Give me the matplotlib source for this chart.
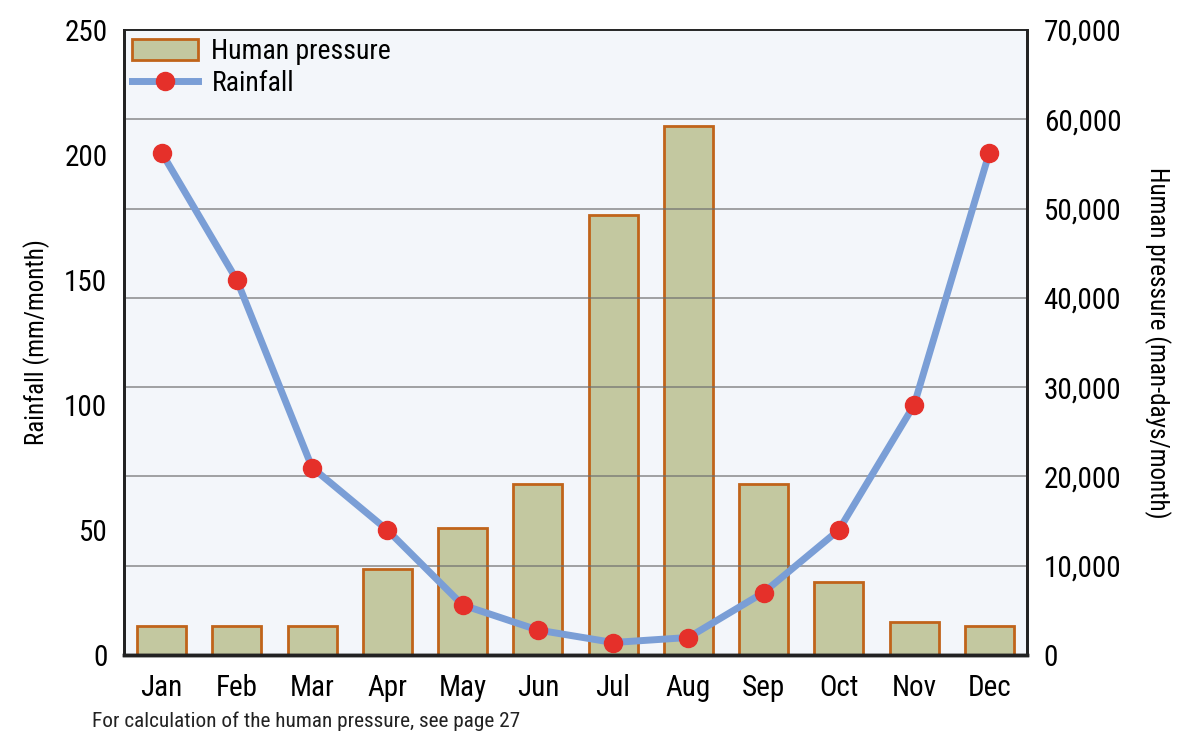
import matplotlib.pyplot as plt
import matplotlib.lines as mlines
import matplotlib.patches as mpatches
from matplotlib.ticker import FuncFormatter
import numpy as np

plt.rcParams['font.family'] = ['Roboto Condensed', 'Archivo Narrow', 'DejaVu Sans']

months = ['Jan', 'Feb', 'Mar', 'Apr', 'May', 'Jun',
          'Jul', 'Aug', 'Sep', 'Oct', 'Nov', 'Dec']
rainfall = [201, 150, 75, 50, 20, 10, 5, 7, 25, 50, 100, 201]
pressure = [3300, 3300, 3300, 9600, 14200, 19100,
            49300, 59200, 19100, 8200, 3700, 3300]
rain_ticks = [0, 50, 100, 150, 200, 250]
press_ticks = [0, 10000, 20000, 30000, 40000, 50000, 60000, 70000]

bar_face = '#c3c8a0'
bar_edge = '#c0641a'
line_col = '#7a9ed6'
dot_col = '#e5302a'

fig = plt.figure(figsize=(12, 7.45), dpi=100)
fig.patch.set_facecolor('white')
ax = fig.add_axes([0.1033, 0.1208, 0.7525, 0.8389])   # rainfall (left)
ax2 = ax.twinx()                                      # human pressure (right)

x = np.arange(len(months))

# bars live on the right axis, put it underneath
ax2.set_zorder(1)
ax.set_zorder(2)
ax.patch.set_visible(False)
ax2.patch.set_visible(True)
ax2.patch.set_facecolor('#f3f6fa')

ax2.bar(x, pressure, width=0.65, color=bar_face, edgecolor=bar_edge,
        linewidth=2, zorder=2)
ax2.set_ylim(0, 70000)
ax2.set_yticks(press_ticks)
ax2.yaxis.set_major_formatter(FuncFormatter(lambda v, p: f'{int(v):,}'))
ax2.grid(axis='y', color='#6e6e6e', linewidth=1.1, alpha=0.8, zorder=3)
ax2.set_axisbelow(False)
ax2.set_ylabel('Human pressure (man-days/month)', fontsize=18,
               rotation=270, labelpad=36)

ax.plot(x, rainfall, color=line_col, lw=5, zorder=3, solid_capstyle='round')
ax.plot(x, rainfall, 'o', color=dot_col, ms=13, zorder=4)
ax.set_ylim(0, 250)
ax.set_xlim(-0.5, 11.5)
ax.set_yticks(rain_ticks)
ax.set_xticks(x)
ax.set_xticklabels(months)
ax.set_ylabel('Rainfall (mm/month)', fontsize=18, labelpad=10)

for a in (ax, ax2):
    a.tick_params(length=0, labelsize=21, pad=18)
    for s in a.spines.values():
        s.set_color('#222222')
        s.set_linewidth(1.2)
    a.spines['left'].set_linewidth(2)
    a.spines['bottom'].set_linewidth(2.5)
    a.spines['right'].set_linewidth(2)
ax.tick_params(axis='y', pad=12)
ax2.tick_params(axis='y', pad=12)
ax.tick_params(axis='x', pad=14)

# legend
h_bar = mpatches.Patch(facecolor=bar_face, edgecolor=bar_edge, linewidth=2)
h_line = mlines.Line2D([], [], color=line_col, lw=5, marker='o',
                       markerfacecolor=dot_col, markeredgecolor=dot_col,
                       ms=13, markevery=[0])
ax.legend([h_bar, h_line], ['Human pressure', 'Rainfall'], loc='upper left',
          frameon=False, fontsize=20, handlelength=2.35, handleheight=0.75,
          borderaxespad=0.0, borderpad=0.3, labelspacing=0.15,
          handletextpad=0.5)

fig.text(0.077, 0.024, 'For calculation of the human pressure, see page 27',
         fontsize=15.3, color='#222222')

fig.savefig('out.png', dpi=100)
